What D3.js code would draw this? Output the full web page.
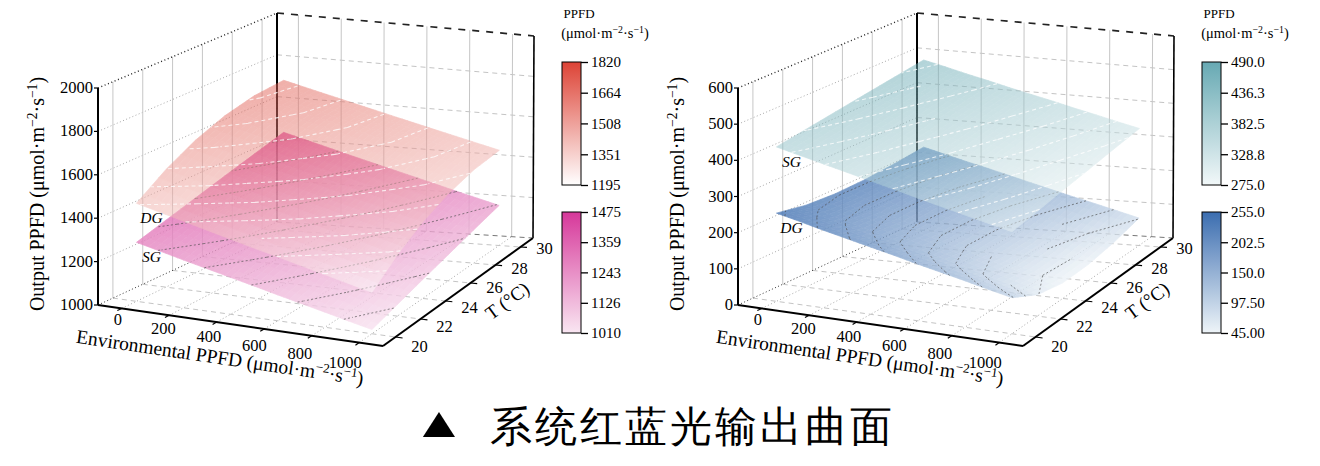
<!DOCTYPE html>
<html><head><meta charset="utf-8">
<script src="https://cdn.jsdelivr.net/npm/d3@7"></script>
<style>
body{margin:0;background:#fff}
svg{display:block}
text{font-family:"Liberation Serif","Times New Roman",serif;fill:#000}
</style>
</head><body>
<svg id="chart" width="1320" height="466" xmlns="http://www.w3.org/2000/svg"></svg>
<script>
// ---------------- data ----------------
const envPPFD = [0,100,200,300,400,500,600,700,800,900,1000];
const tempC = [20,22,24,26,28,30];
// rows follow tempC, columns follow envPPFD
const leftDG = [
  [1454,1428,1402,1376,1350,1324,1299,1273,1247,1221,1195],
  [1548,1523,1497,1471,1446,1420,1394,1368,1343,1317,1291],
  [1622,1596,1571,1545,1520,1494,1469,1443,1418,1392,1367],
  [1675,1649,1624,1599,1573,1548,1523,1497,1472,1447,1421],
  [1707,1682,1656,1631,1606,1581,1556,1531,1505,1480,1455],
  [1718,1693,1668,1643,1618,1593,1568,1543,1518,1493,1468]
];
const leftSG = [
  [1273,1248,1222,1197,1172,1147,1121,1096,1071,1045,1020],
  [1312,1287,1261,1235,1209,1184,1158,1132,1107,1081,1055],
  [1351,1325,1299,1273,1247,1221,1195,1169,1143,1117,1091],
  [1391,1364,1338,1311,1285,1258,1232,1206,1179,1153,1126],
  [1430,1403,1376,1349,1323,1296,1269,1242,1215,1188,1162],
  [1469,1442,1415,1387,1360,1333,1306,1279,1251,1224,1197]
];
const rightSG = [
  [429,415,401,387,373,359,344,330,316,302,288],
  [441,427,413,399,384,370,356,342,328,314,299],
  [453,439,425,410,396,382,368,353,339,325,311],
  [465,451,436,422,408,394,379,365,351,336,322],
  [477,463,448,434,420,405,391,377,362,348,334],
  [489,475,460,446,431,417,403,388,374,359,345]
];
const rightDG = [
  [245,231,216,202,188,174,159,145,131,116,102],
  [229,212,195,178,161,145,128,111,94,77,61],
  [223,205,187,169,151,134,116,98,80,62,45],
  [224,207,189,171,153,136,118,100,83,65,47],
  [230,213,196,179,162,145,128,111,94,77,60],
  [239,223,207,192,176,160,144,128,113,97,81]
];
const xBox = [-100,1100];
const tBox = [19,31];
const zBoxLeft = [1000,2000];
const zBoxRight = [0,600];
const xTicks = [0,200,400,600,800,1000];
const tTicks = [20,22,24,26,28,30];
const zTicksLeft = [1000,1200,1400,1600,1800,2000];
const zTicksRight = [0,100,200,300,400,500,600];
const cbLeftDG = ["1820","1664","1508","1351","1195"];
const cbLeftSG = ["1475","1359","1243","1126","1010"];
const cbRightSG = ["490.0","436.3","382.5","328.8","275.0"];
const cbRightDG = ["255.0","202.5","150.0","97.50","45.00"];
const levelsLeftDG = [1250,1300,1350,1400,1450,1500,1550,1600,1650,1700];
const levelsLeftSG = [1050,1100,1150,1200,1250,1300,1350,1400,1450];
const levelsRightSG = [300,320,340,360,380,400,420,440,460,480];
const levelsRightDG = [60,80,100,120,140,160,180,200,220,240];
const titleText = "系统红蓝光输出曲面";

// ---------------- drawing ----------------
const svg = d3.select('#chart');
const line = d3.line();

function makeProj(C){
  const lerp=(a,b,t)=>[a[0]+(b[0]-a[0])*t, a[1]+(b[1]-a[1])*t];
  return (u,v,w)=>{
    const b0 = lerp(lerp(C.c000,C.c100,u), lerp(C.c010,C.c110,u), v);
    const b1 = lerp(lerp(C.c001,C.c101,u), lerp(C.c011,C.c111,u), v);
    return lerp(b0,b1,w);
  };
}
function shift(C,dx){const o={};for(const k in C)o[k]=[C[k][0]+dx,C[k][1]];return o;}

const baseCorners = {
  c000:[98,305], c100:[383,346], c110:[533,238], c010:[277,222],
  c001:[98,88],  c101:[383,133], c111:[534,36],  c011:[277,13]
};

function supText(sel, parts, fs){
  const small = fs*0.68, up = fs*0.36;
  sel.append('tspan').text(parts[0]);
  sel.append('tspan').attr('dy',-up).attr('font-size',small).text(parts[1]);
  sel.append('tspan').attr('dy',up).text(parts[2]);
  sel.append('tspan').attr('dy',-up).attr('font-size',small).text(parts[3]);
  sel.append('tspan').attr('dy',up).text(parts[4]);
}

function drawChart(cfg){
  const g = svg.append('g');
  const sx = d3.scaleLinear().domain(xBox).range([0,1]);
  const sT = d3.scaleLinear().domain(tBox).range([0,1]);
  const sz = d3.scaleLinear().domain(cfg.zBox).range([0,1]);
  const P = makeProj(cfg.corners);
  const pt = (x,T,z)=>P(sx(x),sT(T),sz(z));
  const [x0,x1]=xBox,[t0,t1]=tBox,[z0,z1]=cfg.zBox;
  const seg=(a,b,st,w,dash)=>g.append('path').attr('d',line([a,b])).attr('fill','none')
      .attr('stroke',st).attr('stroke-width',w).attr('stroke-dasharray',dash||null);

  const gDot='1,2.4', gDash='5,4';
  // floor grid
  xTicks.forEach(x=>seg(pt(x,t0,z0),pt(x,t1,z0),'#a8a8a8',1,gDot));
  tTicks.forEach(T=>seg(pt(x0,T,z0),pt(x1,T,z0),'#c4c4c4',1,gDash));
  // left wall
  cfg.zTicks.slice(1,-1).forEach(z=>seg(pt(x0,t0,z),pt(x0,t1,z),'#a8a8a8',1,gDot));
  tTicks.forEach(T=>seg(pt(x0,T,z0),pt(x0,T,z1),'#c6c6c6',1));
  // back wall
  cfg.zTicks.slice(1,-1).forEach(z=>seg(pt(x0,t1,z),pt(x1,t1,z),'#c4c4c4',1,gDash));
  xTicks.forEach(x=>seg(pt(x,t1,z0),pt(x,t1,z1),'#c6c6c6',1));
  // back box edges
  seg(pt(x0,t0,z1),pt(x0,t1,z1),'#222',1.4,'1,2.6');
  seg(pt(x0,t1,z1),pt(x1,t1,z1),'#222',1.7,'7,7');
  seg(pt(x0,t1,z0),pt(x0,t1,z1),'#000',2);
  seg(pt(x1,t1,z0),pt(x1,t1,z1),'#000',1.6);
  seg(pt(x0,t0,z0),pt(x0,t1,z0),'#333',1,'1,2.4');
  seg(pt(x0,t1,z0),pt(x1,t1,z0),'#777',1,gDash);

  function surface(grid, color, opacity, levels, cStroke, cWidth, cDash, cOp){
    const gs = g.append('g').attr('opacity',opacity);
    const N=4;
    for(let j=0;j<tempC.length-1;j++){
      for(let i=0;i<envPPFD.length-1;i++){
        const v00=grid[j][i], v10=grid[j][i+1], v01=grid[j+1][i], v11=grid[j+1][i+1];
        const zAt=(a,b)=>v00*(1-a)*(1-b)+v10*a*(1-b)+v01*(1-a)*b+v11*a*b;
        const xAt=a=>envPPFD[i]+(envPPFD[i+1]-envPPFD[i])*a;
        const tAt=b=>tempC[j]+(tempC[j+1]-tempC[j])*b;
        for(let a=0;a<N;a++)for(let b=0;b<N;b++){
          const A=a/N,B=b/N,A2=(a+1)/N,B2=(b+1)/N;
          const pts=[[A,B],[A2,B],[A2,B2],[A,B2]].map(([p,q])=>pt(xAt(p),tAt(q),zAt(p,q)));
          const c=color(zAt((A+A2)/2,(B+B2)/2));
          gs.append('path').attr('d',line(pts)+'Z').attr('fill',c).attr('stroke',c).attr('stroke-width',0.7);
        }
      }
    }
    const gc = g.append('g').attr('fill','none').attr('stroke',cStroke).attr('stroke-width',cWidth)
      .attr('stroke-dasharray',cDash).attr('opacity',cOp);
    levels.forEach(L=>{
      let d='';
      for(let j=0;j<tempC.length-1;j++){
        for(let i=0;i<envPPFD.length-1;i++){
          const P4=[[i,j],[i+1,j],[i+1,j+1],[i,j+1]];
          const hits=[];
          for(let e=0;e<4;e++){
            const [ia,ja]=P4[e],[ib,jb]=P4[(e+1)%4];
            const va=grid[ja][ia], vb=grid[jb][ib];
            if((va-L)*(vb-L)<0){
              const t=(L-va)/(vb-va);
              const x=envPPFD[ia]+(envPPFD[ib]-envPPFD[ia])*t;
              const T=tempC[ja]+(tempC[jb]-tempC[ja])*t;
              hits.push(pt(x,T,L));
            }
          }
          for(let k=0;k+1<hits.length;k+=2) d+=line([hits[k],hits[k+1]]);
        }
      }
      if(d) gc.append('path').attr('d',d);
    });
  }

  const lo=cfg.lower, up=cfg.upper;
  surface(lo.grid, lo.color, lo.opacity, lo.levels, '#4a4a4a', 0.9, '2,2.2', 0.7);
  surface(up.grid, up.color, up.opacity, up.levels, '#ffffff', 1.1, '4,3', 0.75);

  // front axes
  seg(pt(x0,t0,z0),pt(x0,t0,z1),'#000',2);
  seg(pt(x0,t0,z0),pt(x1,t0,z0),'#000',2);
  seg(pt(x1,t0,z0),pt(x1,t1,z0),'#000',2);

  cfg.zTicks.forEach(z=>{
    const p=pt(x0,t0,z);
    seg([p[0]-4,p[1]],p,'#000',1.2);
    g.append('text').attr('x',p[0]-5).attr('y',p[1]+5).attr('text-anchor','end')
      .attr('font-size',16.5).text(z);
  });
  xTicks.forEach(x=>{
    const a=pt(x,t0,z0), b=pt(x,t0-0.3,z0);
    seg(a,b,'#000',1.2);
    const f=(x-xTicks[0])/(xTicks[xTicks.length-1]-xTicks[0]);
    g.append('text').attr('x',a[0]-4-10*f).attr('y',a[1]+17+8*f).attr('text-anchor','middle')
      .attr('font-size',16.5).text(x);
  });
  tTicks.forEach(T=>{
    const a=pt(x1,T,z0), b=pt(x1+30,T,z0);
    seg(a,b,'#000',1.2);
    const f=(T-tTicks[0])/(tTicks[tTicks.length-1]-tTicks[0]);
    g.append('text').attr('x',a[0]+24).attr('y',a[1]+15-8*f).attr('text-anchor','middle')
      .attr('font-size',16.5).text(T);
  });

  const ox=cfg.dx;
  const zt=g.append('text').attr('transform',`translate(${44+ox},194) rotate(-90)`)
    .attr('text-anchor','middle').attr('font-size',20);
  supText(zt,['Output PPFD (μmol·m','−2','·s','−1',')'],20);
  const xt=g.append('text').attr('transform',`translate(${219+ox},364) rotate(8.4)`)
    .attr('text-anchor','middle').attr('font-size',19.5);
  supText(xt,['Environmental PPFD (μmol·m','−2','·s','−1',')'],19.5);
  g.append('text').attr('transform',`translate(${511+ox},306) rotate(-36)`)
    .attr('text-anchor','middle').attr('font-size',19).text('T (°C)');

  [[up,up.name],[lo,lo.name]].forEach(([s,name])=>{
    const p=pt(envPPFD[0],tempC[0],s.grid[0][0]);
    g.append('text').attr('x',p[0]+15).attr('y',p[1]+20).attr('text-anchor','middle')
      .attr('font-size',15.5).attr('font-style','italic').text(name);
  });

  // colorbars
  const bx=562+ox, bw=19;
  g.append('text').attr('x',bx+17).attr('y',18).attr('text-anchor','middle').attr('font-size',13).text('PPFD');
  const ct=g.append('text').attr('x',bx+43).attr('y',38).attr('text-anchor','middle').attr('font-size',14.5);
  supText(ct,['(μmol·m','−2','·s','−1',')'],14.5);
  [[up,62,185],[lo,212,333]].forEach(([s,top,bot],k)=>{
    const id='grad'+cfg.id+k;
    const vals=s.cb.map(Number);
    const mn=d3.min(vals), mx=d3.max(vals);
    const grad=svg.append('defs').append('linearGradient').attr('id',id)
      .attr('x1',0).attr('y1',1).attr('x2',0).attr('y2',0);
    d3.range(0,1.0001,0.1).forEach(t=>grad.append('stop').attr('offset',t).attr('stop-color',s.color(mn+(mx-mn)*t)));
    g.append('rect').attr('x',bx).attr('y',top).attr('width',bw).attr('height',bot-top)
      .attr('fill',`url(#${id})`).attr('stroke','#000').attr('stroke-width',1);
    const sc=d3.scaleLinear().domain([mn,mx]).range([bot,top]);
    const ax=g.append('g').attr('transform',`translate(${bx+bw},0)`)
      .call(d3.axisRight(sc).tickValues(vals).tickFormat((d,i)=>s.cb[i]).tickSize(7).tickPadding(3));
    ax.select('.domain').remove();
    ax.selectAll('line').attr('stroke','#000').attr('stroke-width',1.3);
    ax.selectAll('text').attr('font-size',15).attr('font-family','"Liberation Serif",serif').attr('fill','#000');
  });
}

function cscale(dom,lo,hi){return d3.scaleLinear().domain(dom).range([lo,hi]).interpolate(d3.interpolateRgb).clamp(true);}

drawChart({
  id:'L', dx:0, corners:baseCorners, zBox:zBoxLeft, zTicks:zTicksLeft,
  upper:{name:'DG', grid:leftDG, color:cscale([1195,1820],'#ffffff','#dd4336'), opacity:0.5, levels:levelsLeftDG, cb:cbLeftDG},
  lower:{name:'SG', grid:leftSG, color:cscale([1010,1475],'#f9e6f2','#d6389a'), opacity:0.8, levels:levelsLeftSG, cb:cbLeftSG}
});
drawChart({
  id:'R', dx:640, corners:shift(baseCorners,640), zBox:zBoxRight, zTicks:zTicksRight,
  upper:{name:'SG', grid:rightSG, color:cscale([275,490],'#f2f8f9','#67a9b3'), opacity:0.5, levels:levelsRightSG, cb:cbRightSG},
  lower:{name:'DG', grid:rightDG, color:cscale([45,255],'#eef4f8','#3b6db0'), opacity:0.8, levels:levelsRightDG, cb:cbRightDG}
});

// title
svg.append('text').attr('transform','translate(439,437) scale(1,0.78)').attr('text-anchor','middle')
  .attr('font-family','"DejaVu Sans",sans-serif').attr('font-size',55).text('▲');
svg.append('text').attr('x',490).attr('y',441).attr('font-family','"Noto Sans CJK SC",sans-serif')
  .attr('font-size',42).attr('letter-spacing',3).text(titleText);
</script>
</body></html>
